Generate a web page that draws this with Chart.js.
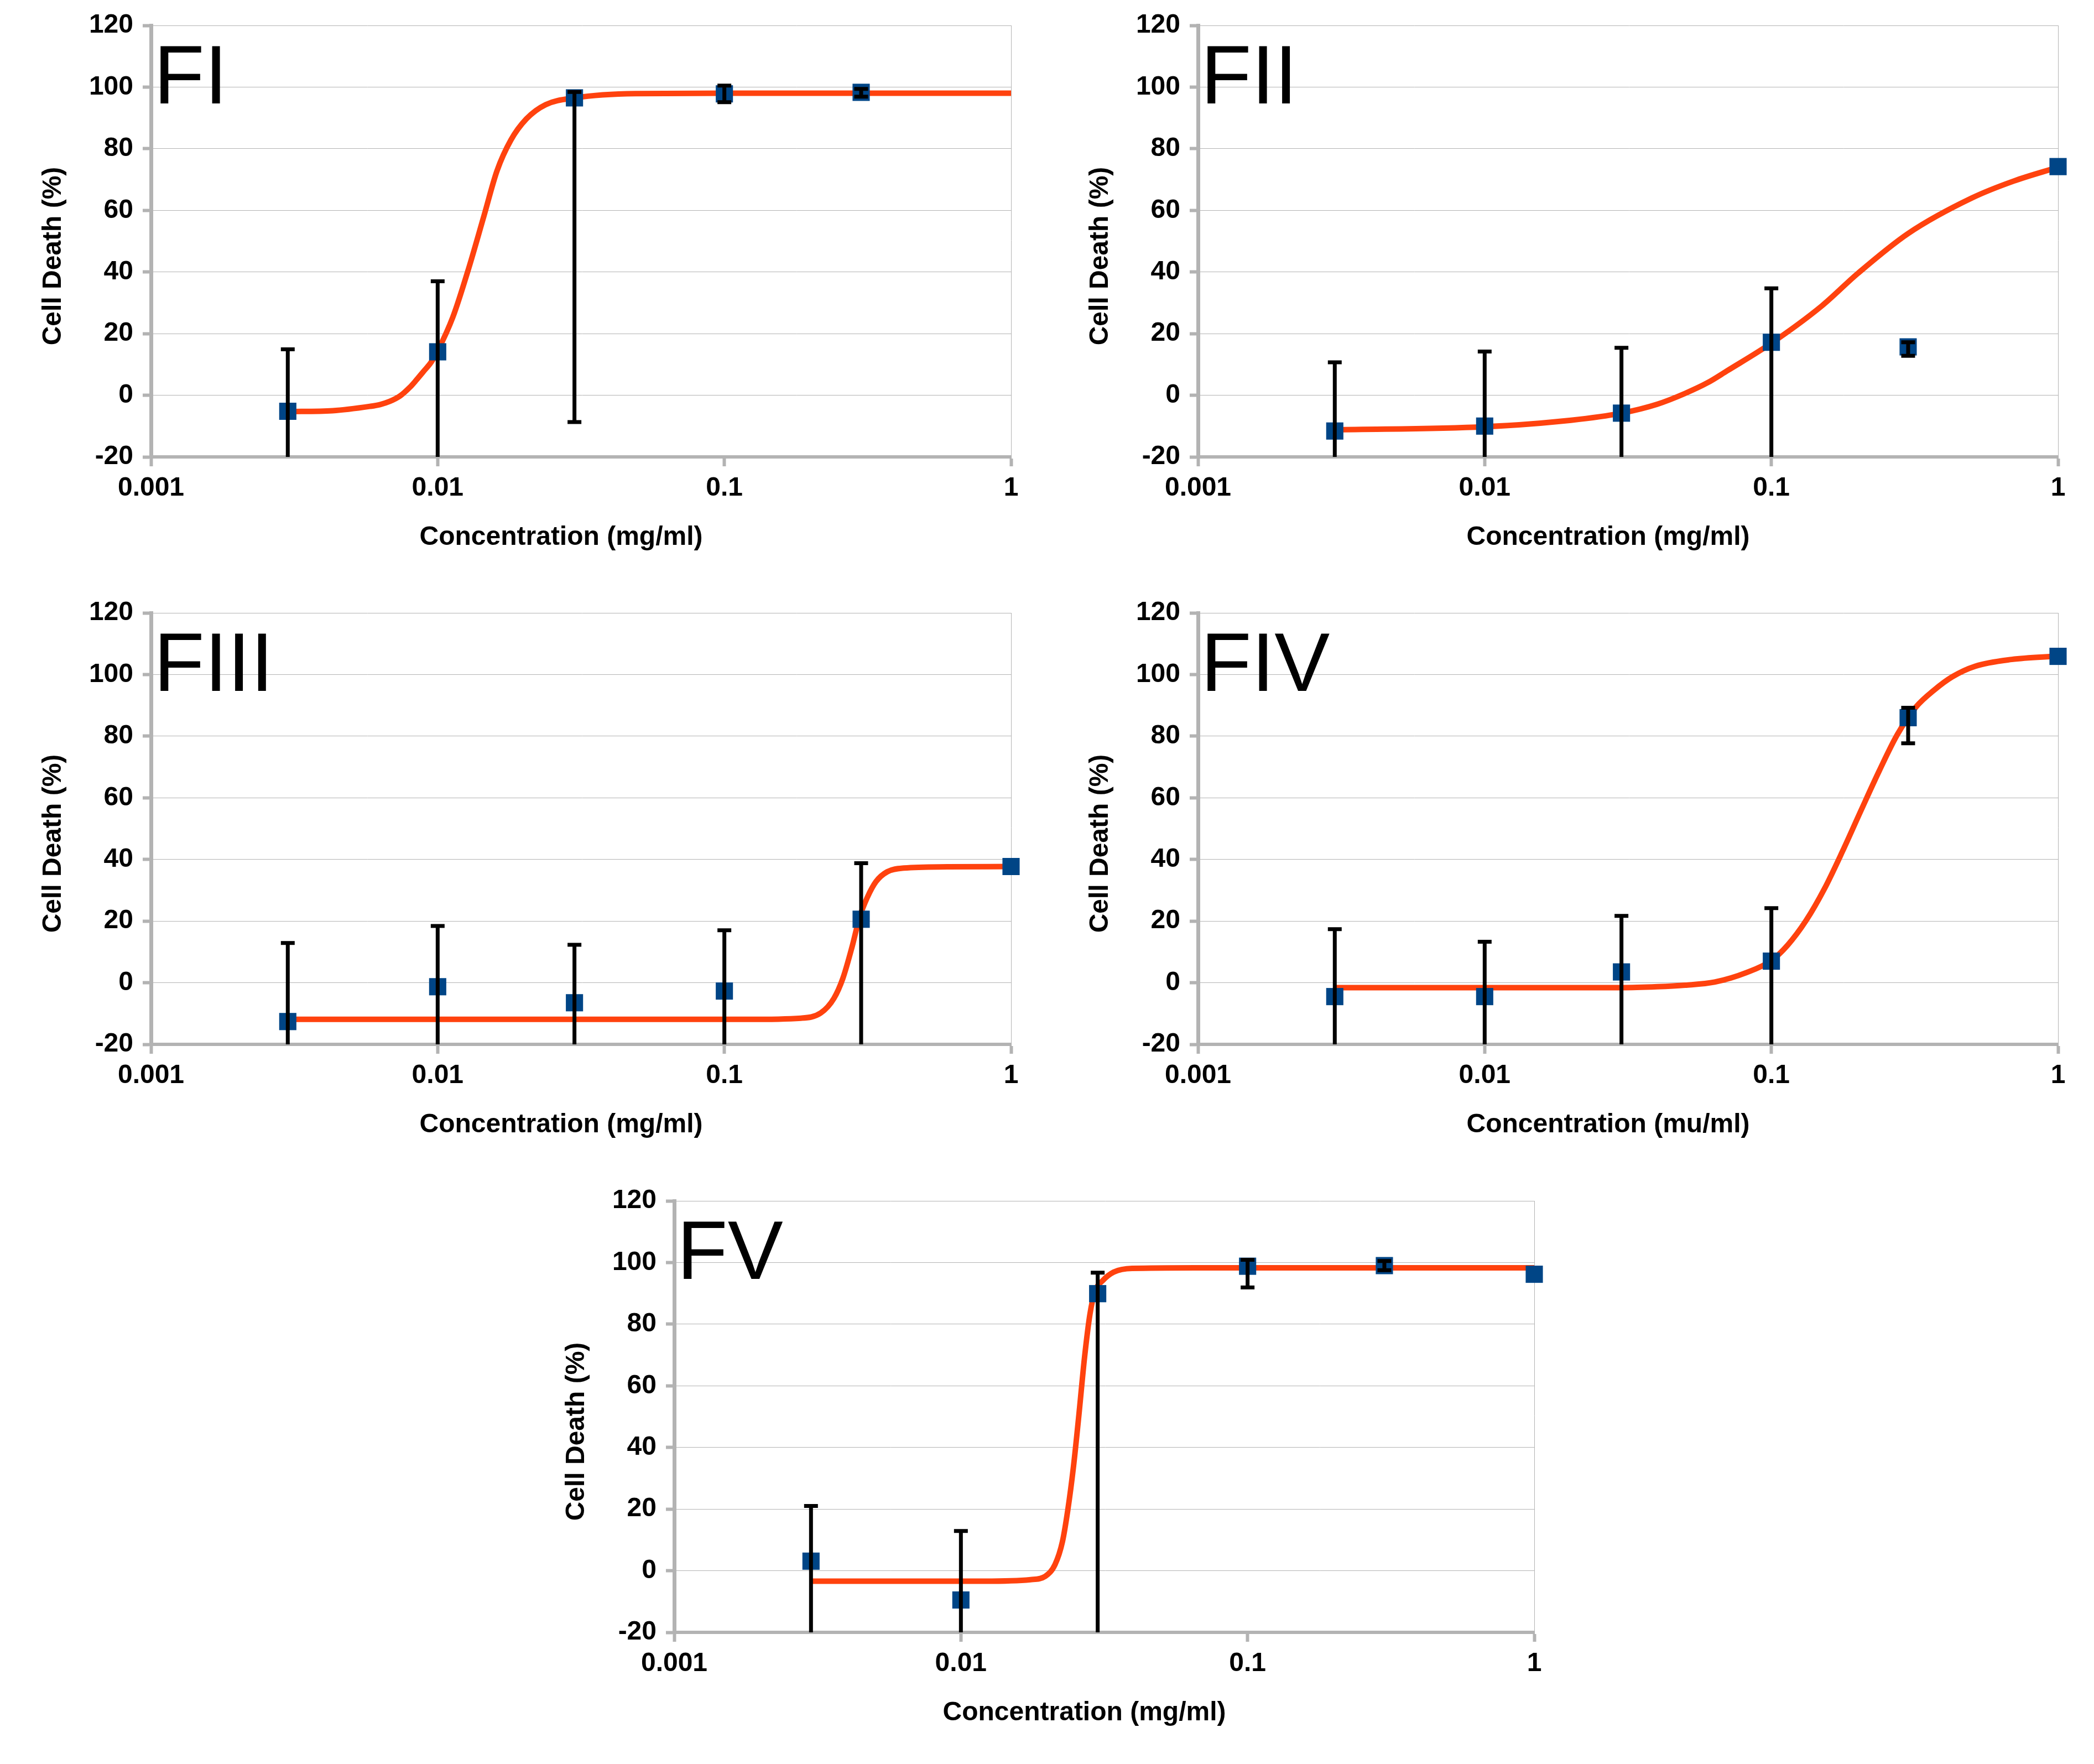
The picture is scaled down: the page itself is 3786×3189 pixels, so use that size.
<!DOCTYPE html>
<html>
<head>
<meta charset="utf-8">
<script src="https://cdn.jsdelivr.net/npm/chart.js@4.4.1/dist/chart.umd.min.js"></script>
<style>
  html, body { margin: 0; padding: 0; background: #fff; }
  body { width: 3786px; height: 3189px; position: relative; overflow: hidden; }
  canvas { position: absolute; }
</style>
</head>
<body>
<canvas id="c1" width="1880" height="1040" style="left:0px;top:0px"></canvas>
<canvas id="c2" width="1880" height="1040" style="left:1893px;top:0px"></canvas>
<canvas id="c3" width="1880" height="1040" style="left:0px;top:1062px"></canvas>
<canvas id="c4" width="1880" height="1040" style="left:1893px;top:1062px"></canvas>
<canvas id="c5" width="1880" height="1040" style="left:946px;top:2125px"></canvas>
<script>
// ejes comunes
const xTicks = [0.001, 0.01, 0.1, 1];
const xTickLabels = ['0.001', '0.01', '0.1', '1'];
const yTicks = [-20, 0, 20, 40, 60, 80, 100, 120];

// FI
const fiX = [0.003, 0.01, 0.03, 0.1, 0.3];
const fiY = [-5.2, 14.1, 96.5, 97.8, 98.3];
const fiHigh = [14.9, 37.0, 98.4, 100.5, 99.4];
const fiLow = [-25.3, -30, -8.7, 95.1, 96.9];
const fiCurveX = [0.003, 0.0043, 0.0058, 0.0063, 0.0068, 0.0074, 0.008, 0.0084, 0.0089, 0.0095, 0.01, 0.0113, 0.0128, 0.0145, 0.0161, 0.018, 0.0204, 0.0238, 0.03, 0.049, 0.1, 0.3, 1];
const fiCurveY = [-5.3, -5.0, -3.6, -3.0, -2.0, -0.2, 2.6, 4.8, 7.6, 10.8, 14.4, 25.4, 40.9, 58.2, 72.8, 82.8, 89.7, 94.3, 96.5, 97.9, 98.0, 98.0, 98.0];

// FII
const fiiX = [0.003, 0.01, 0.03, 0.1, 0.3, 1];
const fiiY = [-11.6, -10.0, -5.8, 17.2, 15.7, 74.2];
const fiiHigh = [10.7, 14.2, 15.4, 34.7, 17.2, null];
const fiiLow = [-33.9, -34.2, -27.0, -25, 12.8, null];
const fiiCurveX = [0.003, 0.01, 0.02, 0.03, 0.04, 0.05, 0.06, 0.07, 0.1, 0.15, 0.2, 0.3, 0.5, 0.7, 1];
const fiiCurveY = [-11.2, -10.2, -8.1, -5.8, -2.9, 0.6, 4.1, 7.9, 16.9, 29.0, 39.5, 52.5, 64.0, 69.5, 74.0];

// FIII
const fiiiX = [0.003, 0.01, 0.03, 0.1, 0.3, 1];
const fiiiY = [-12.6, -1.3, -6.5, -2.7, 20.6, 37.7];
const fiiiHigh = [12.9, 18.4, 12.3, 17.0, 38.8, null];
const fiiiLow = [-38.1, -21.0, -25.3, -22.4, -25, null];
const fiiiCurveX = [0.003, 0.03, 0.12, 0.185, 0.217, 0.241, 0.259, 0.279, 0.296, 0.315, 0.338, 0.37, 0.423, 0.6, 1];
const fiiiCurveY = [-11.9, -11.9, -11.9, -11.5, -9.8, -5.1, 1.4, 11.7, 21.1, 27.6, 32.8, 36.0, 37.2, 37.6, 37.7];

// FIV
const fivX = [0.003, 0.01, 0.03, 0.1, 0.3, 1];
const fivY = [-4.5, -4.5, 3.5, 7.0, 86.0, 105.9];
const fivHigh = [17.4, 13.3, 21.7, 24.2, 89.2, null];
const fivLow = [-26.4, -22.3, -22, -22, 77.7, null];
const fivCurveX = [0.003, 0.03, 0.04, 0.05, 0.0634, 0.082, 0.1, 0.114, 0.132, 0.153, 0.177, 0.205, 0.238, 0.275, 0.319, 0.37, 0.428, 0.514, 0.689, 1];
const fivCurveY = [-1.6, -1.6, -1.3, -0.8, 0.2, 3.3, 7.2, 12.2, 20.1, 30.4, 42.6, 55.7, 68.8, 80.5, 89.4, 95.0, 99.3, 102.7, 104.9, 106.0];

// FV
const fvX = [0.003, 0.01, 0.03, 0.1, 0.3, 1];
const fvY = [3.1, -9.5, 89.9, 98.8, 99.0, 96.2];
const fvHigh = [21.0, 12.9, 96.7, 100.9, 100.5, null];
const fvLow = [-25, -31.9, -25, 91.9, 97.5, null];
const fvCurveX = [0.003, 0.0121, 0.0175, 0.0197, 0.0213, 0.0226, 0.0236, 0.0247, 0.0258, 0.027, 0.0282, 0.0294, 0.0312, 0.0341, 0.0396, 0.0656, 1];
const fvCurveY = [-3.4, -3.4, -2.9, -1.8, 2.0, 9.4, 19.7, 33.8, 50.6, 69.3, 83.3, 90.8, 94.1, 96.9, 98.1, 98.3, 98.3];

const panels = [
  { id: 'c1', label: 'FI', xTitle: 'Concentration (mg/ml)', x: fiX, y: fiY, high: fiHigh, low: fiLow, cx: fiCurveX, cy: fiCurveY },
  { id: 'c2', label: 'FII', xTitle: 'Concentration (mg/ml)', x: fiiX, y: fiiY, high: fiiHigh, low: fiiLow, cx: fiiCurveX, cy: fiiCurveY },
  { id: 'c3', label: 'FIII', xTitle: 'Concentration (mg/ml)', x: fiiiX, y: fiiiY, high: fiiiHigh, low: fiiiLow, cx: fiiiCurveX, cy: fiiiCurveY },
  { id: 'c4', label: 'FIV', xTitle: 'Concentration (mu/ml)', x: fivX, y: fivY, high: fivHigh, low: fivLow, cx: fivCurveX, cy: fivCurveY },
  { id: 'c5', label: 'FV', xTitle: 'Concentration (mg/ml)', x: fvX, y: fvY, high: fvHigh, low: fvLow, cx: fvCurveX, cy: fvCurveY }
];

const yTitle = 'Cell Death (%)';
const FONT = '"Liberation Sans", Arial, sans-serif';
const AXIS_GREY = '#b3b3b3';

Chart.defaults.font.family = FONT;
Chart.defaults.color = '#000';

// barras de error, dibujadas encima de los puntos
function errorBars(p) {
  return {
    id: 'errorBars',
    afterDatasetsDraw(chart) {
      const { ctx, chartArea: a, scales: { x, y } } = chart;
      ctx.save();
      ctx.beginPath();
      ctx.rect(a.left, a.top, a.right - a.left, a.bottom - a.top);
      ctx.clip();
      ctx.strokeStyle = '#000';
      ctx.lineWidth = 7;
      ctx.lineCap = 'butt';
      p.x.forEach((v, i) => {
        if (p.high[i] == null) return;
        const px = x.getPixelForValue(v);
        const top = y.getPixelForValue(p.high[i]);
        const bot = y.getPixelForValue(p.low[i]);
        ctx.beginPath();
        ctx.moveTo(px, top); ctx.lineTo(px, bot);
        ctx.moveTo(px - 12.5, top); ctx.lineTo(px + 12.5, top);
        ctx.moveTo(px - 12.5, bot); ctx.lineTo(px + 12.5, bot);
        ctx.stroke();
      });
      ctx.restore();
    }
  };
}

// nombre del panel y titulos de los ejes
function panelText(p) {
  return {
    id: 'panelText',
    beforeDatasetsDraw(chart) {
      const { ctx, chartArea: a } = chart;
      ctx.save();
      ctx.fillStyle = '#000';
      ctx.font = '150px ' + FONT;
      ctx.textAlign = 'left';
      ctx.textBaseline = 'alphabetic';
      ctx.fillText(p.label, a.left + 5, a.top + 141);
      ctx.restore();
    },
    afterDraw(chart) {
      const { ctx, chartArea: a } = chart;
      ctx.save();
      ctx.fillStyle = '#000';
      ctx.font = 'bold 48px ' + FONT;
      ctx.textAlign = 'center';
      ctx.textBaseline = 'middle';
      ctx.fillText(p.xTitle, (a.left + a.right) / 2 - 36, a.bottom + 146);
      ctx.translate(a.left - 176, (a.top + a.bottom) / 2 + 27);
      ctx.rotate(-Math.PI / 2);
      ctx.fillText(yTitle, 0, 0);
      ctx.restore();
    }
  };
}

panels.forEach(p => {
  const ctx = document.getElementById(p.id).getContext('2d');
  new Chart(ctx, {
    type: 'scatter',
    data: {
      datasets: [
        {
          data: p.x.map((v, i) => ({ x: v, y: p.y[i] })),
          pointStyle: 'rect',
          pointRadius: 22,
          pointBorderWidth: 0,
          backgroundColor: '#004586',
          borderColor: '#004586',
          clip: false,
          order: 0
        },
        {
          type: 'line',
          data: p.cx.map((v, i) => ({ x: v, y: p.cy[i] })),
          borderColor: '#ff420e',
          borderWidth: 10,
          pointRadius: 0,
          fill: false,
          cubicInterpolationMode: 'monotone',
          order: 1
        }
      ]
    },
    options: {
      responsive: false,
      animation: false,
      devicePixelRatio: 1,
      layout: { padding: { top: 46, right: 52, bottom: 0, left: 0 } },
      plugins: {
        legend: { display: false },
        tooltip: { enabled: false }
      },
      scales: {
        x: {
          type: 'logarithmic',
          min: 0.001,
          max: 1,
          afterBuildTicks: s => { s.ticks = xTicks.map(v => ({ value: v })); },
          afterFit: s => { s.height = 214; },
          ticks: {
            callback: v => xTickLabels[xTicks.indexOf(v)],
            font: { size: 48, weight: 'bold' },
            padding: 11,
            maxRotation: 0,
            autoSkip: false
          },
          grid: {
            color: c => (c.tick && c.tick.value === 1 ? AXIS_GREY : 'rgba(0,0,0,0)'),
            lineWidth: 1,
            tickLength: 17,
            tickWidth: 6,
            tickColor: AXIS_GREY
          },
          border: { color: AXIS_GREY, width: 6 }
        },
        y: {
          min: -20,
          max: 120,
          afterBuildTicks: s => { s.ticks = yTicks.map(v => ({ value: v })); },
          afterFit: s => { s.width = 273; },
          ticks: {
            font: { size: 48, weight: 'bold' },
            padding: 17
          },
          grid: {
            color: AXIS_GREY,
            lineWidth: 1,
            tickLength: 15,
            tickWidth: 6,
            tickColor: AXIS_GREY
          },
          border: { color: AXIS_GREY, width: 7 }
        }
      }
    },
    plugins: [errorBars(p), panelText(p)]
  });
});
</script>
</body>
</html>
